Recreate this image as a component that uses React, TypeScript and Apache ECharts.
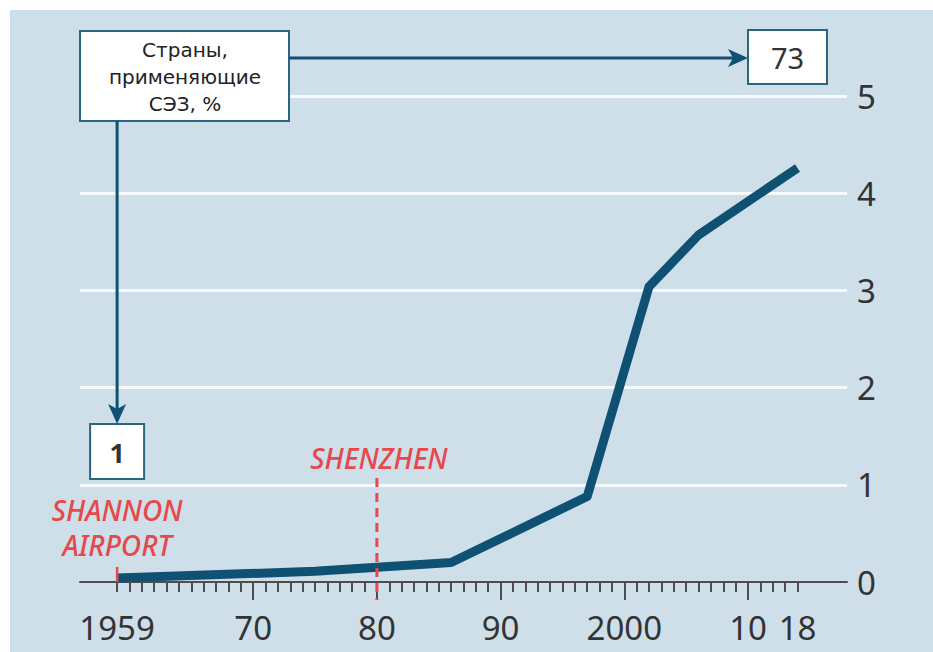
import React, { useEffect, useRef } from "react";
import * as echarts from "echarts";

// X categories: years 1956–2013, then a compressed break to 2018, then padding slots
const yearCategories: string[] = [
  "1956", "1957", "1958", "1959", "1960", "1961", "1962", "1963", "1964", "1965",
  "1966", "1967", "1968", "1969", "1970", "1971", "1972", "1973", "1974", "1975",
  "1976", "1977", "1978", "1979", "1980", "1981", "1982", "1983", "1984", "1985",
  "1986", "1987", "1988", "1989", "1990", "1991", "1992", "1993", "1994", "1995",
  "1996", "1997", "1998", "1999", "2000", "2001", "2002", "2003", "2004", "2005",
  "2006", "2007", "2008", "2009", "2010", "2011", "2012", "2013", "2018",
  "pad1", "pad2", "pad3", "pad4",
];

// Tick labels
const tickLabels: Record<string, string> = {
  "1959": "1959",
  "1970": "70",
  "1980": "80",
  "1990": "90",
  "2000": "2000",
  "2010": "10",
  "2018": "18",
};
const majorTickYears: string[] = ["1970", "1980", "1990", "2000", "2010"];
const firstTickYear = "1959";
const lastTickYear = "2018";

// Series: number of special economic zones, '000
const seriesYears: string[] = ["1959", "1975", "1986", "1997", "2002", "2006", "2018"];
const seriesValues: number[] = [0.04, 0.11, 0.2, 0.88, 3.04, 3.57, 4.26];

// Y axis
const yMin = 0;
const yMax = 5;
const yInterval = 1;

// Annotations
const boxTitle = "Страны,\nприменяющие\nСЭЗ, %";
const startShare = "1";
const endShare = "73";
const shannonLabel = "SHANNON\nAIRPORT";
const shannonYear = "1959";
const shenzhenLabel = "SHENZHEN";
const shenzhenYear = "1980";

const LINE = "#0f5173";
const BOX = "#2a6580";
const RED = "#e6484b";
const TXT = "#333333";
const TICK = "#4d4d4d";

export default function App() {
  const ref = useRef<HTMLDivElement>(null);

  useEffect(() => {
    if (!ref.current) return;
    const chart = echarts.init(ref.current, undefined, { renderer: "svg" });
    const firstIdx = yearCategories.indexOf(firstTickYear);
    const lastIdx = yearCategories.indexOf(lastTickYear);

    chart.setOption({
      animation: false,
      grid: { left: 80, right: 86, top: 96, bottom: 70 },
      xAxis: [
        {
          type: "category",
          data: yearCategories,
          boundaryGap: false,
          position: "bottom",
          axisLine: { show: true, lineStyle: { color: TICK, width: 2 } },
          axisTick: {
            show: true,
            length: 10,
            interval: (i: number) => i >= firstIdx && i <= lastIdx,
            lineStyle: { color: TICK, width: 2 },
          },
          axisLabel: {
            show: true,
            interval: (_i: number, v: string) => v in tickLabels,
            formatter: (v: string) => tickLabels[v] ?? "",
            fontFamily: "Noto Sans",
            fontSize: 33,
            color: TXT,
            margin: 29,
          },
          splitLine: { show: false },
        },
        {
          type: "category",
          data: yearCategories,
          boundaryGap: false,
          position: "bottom",
          axisLine: { show: false },
          axisTick: {
            show: true,
            length: 18,
            interval: (_i: number, v: string) => majorTickYears.includes(v),
            lineStyle: { color: TICK, width: 2 },
          },
          axisLabel: { show: false },
          splitLine: { show: false },
        },
      ],
      yAxis: {
        type: "value",
        position: "right",
        min: yMin,
        max: yMax,
        interval: yInterval,
        axisLine: { show: false },
        axisTick: { show: false },
        axisLabel: {
          fontFamily: "Noto Sans",
          fontSize: 33,
          color: TXT,
          margin: 10,
        },
        splitLine: {
          show: true,
          lineStyle: {
            color: ["rgba(0,0,0,0)", "#f7fafc", "#f7fafc", "#f7fafc", "#f7fafc", "#f7fafc"],
            width: 3,
          },
        },
      },
      series: [
        {
          type: "line",
          xAxisIndex: 0,
          data: seriesYears.map((y, i) => [y, seriesValues[i]]),
          symbol: "none",
          lineStyle: { color: LINE, width: 9, cap: "butt", join: "round" },
          z: 3,
        },
      ],
    });

    const xS = chart.convertToPixel({ xAxisIndex: 0 }, shannonYear) as number;
    const xZ = chart.convertToPixel({ xAxisIndex: 0 }, shenzhenYear) as number;
    const y0 = chart.convertToPixel({ yAxisIndex: 0 }, 0) as number;

    chart.setOption({
      graphic: [
        // title box
        {
          type: "rect",
          z: 100,
          shape: { x: 80, y: 31, width: 209, height: 90 },
          style: { fill: "#ffffff", stroke: BOX, lineWidth: 2 },
        },
        {
          type: "text",
          z: 101,
          x: 185,
          y: 77,
          style: {
            text: boxTitle,
            font: "20px 'DejaVu Sans'",
            fill: "#222222",
            align: "center",
            verticalAlign: "middle",
            lineHeight: 27,
          },
        },
        // horizontal arrow to 73
        {
          type: "line",
          z: 100,
          shape: { x1: 289, y1: 58, x2: 736, y2: 58 },
          style: { stroke: LINE, lineWidth: 3 },
        },
        {
          type: "polygon",
          z: 100,
          shape: { points: [[748, 58], [728, 49], [733, 58], [728, 67]] },
          style: { fill: LINE },
        },
        {
          type: "rect",
          z: 100,
          shape: { x: 748, y: 30, width: 79, height: 54 },
          style: { fill: "#ffffff", stroke: BOX, lineWidth: 2 },
        },
        {
          type: "text",
          z: 101,
          x: 787.5,
          y: 57,
          style: {
            text: endShare,
            font: "29px 'Noto Sans'",
            fill: TXT,
            align: "center",
            verticalAlign: "middle",
          },
        },
        // vertical arrow to 1
        {
          type: "line",
          z: 100,
          shape: { x1: xS, y1: 121, x2: xS, y2: 412 },
          style: { stroke: LINE, lineWidth: 3 },
        },
        {
          type: "polygon",
          z: 100,
          shape: { points: [[xS, 424], [xS - 9, 404], [xS, 409], [xS + 9, 404]] },
          style: { fill: LINE },
        },
        {
          type: "rect",
          z: 100,
          shape: { x: xS - 27, y: 424, width: 54, height: 55 },
          style: { fill: "#ffffff", stroke: BOX, lineWidth: 2 },
        },
        {
          type: "text",
          z: 101,
          x: xS,
          y: 452,
          style: {
            text: startShare,
            font: "bold 27px 'Noto Sans'",
            fill: TXT,
            align: "center",
            verticalAlign: "middle",
          },
        },
        // Shannon marker
        {
          type: "line",
          z: 100,
          shape: { x1: xS, y1: 567, x2: xS, y2: y0 },
          style: { stroke: RED, lineWidth: 2.5 },
        },
        {
          type: "text",
          z: 101,
          x: xS,
          y: 527,
          style: {
            text: shannonLabel,
            font: "italic 500 28px 'Noto Sans'",
            fill: RED,
            align: "center",
            verticalAlign: "middle",
            lineHeight: 35,
          },
        },
        // Shenzhen marker
        {
          type: "line",
          z: 100,
          shape: { x1: xZ, y1: 478, x2: xZ, y2: 600 },
          style: { stroke: RED, lineWidth: 3, lineDash: [9, 6] },
        },
        {
          type: "text",
          z: 101,
          x: xZ + 2,
          y: 458,
          style: {
            text: shenzhenLabel,
            font: "italic 500 28px 'Noto Sans'",
            fill: RED,
            align: "center",
            verticalAlign: "middle",
          },
        },
      ],
    });

    return () => chart.dispose();
  }, []);

  return (
    <div style={{ position: "absolute", left: 0, top: 0, width: 933, height: 652, background: "#ffffff" }}>
      <div style={{ position: "absolute", left: 10, top: 10, right: 0, bottom: 0, background: "#cedfe9" }} />
      <div ref={ref} style={{ position: "absolute", left: 0, top: 0, width: 933, height: 652 }} />
    </div>
  );
}
